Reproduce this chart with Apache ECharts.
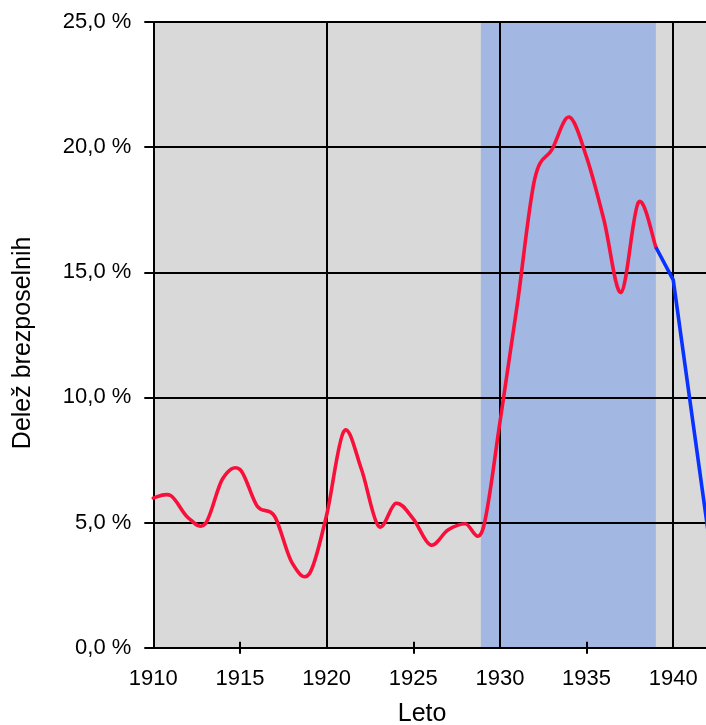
<!DOCTYPE html>
<html>
<head>
<meta charset="utf-8">
<script src="https://cdn.jsdelivr.net/npm/echarts@6/dist/echarts.min.js"></script>
<style>
html,body{margin:0;padding:0;background:#fff;overflow:hidden;}
#c{width:706px;height:725px;}
</style>
</head>
<body>
<div id="c"></div>
<script>
// Data
var redYears = [1910,1911,1912,1913,1914,1915,1916,1917,1918,1919,1920,1921,1922,1923,1924,1925,1926,1927,1928,1929,1930,1931,1932,1933,1934,1935,1936,1937,1938,1939];
var redValues = [5.98,6.08,5.2,4.95,6.75,7.12,5.65,5.25,3.4,2.95,5.3,8.65,7.15,4.85,5.77,5.15,4.1,4.7,4.95,4.7,9.0,13.7,18.7,19.9,21.2,19.6,17.1,14.2,17.8,16.0];
var blueYears = [1939,1940,1941,1942];
var blueValues = [16.0,14.7,9.7,4.7];
var bandRange = [1928.9, 1939.0];
var yTicks = [0,5,10,15,20,25];
var minorTickYears = [1915,1925,1935];

function pairs(xs, ys){ return xs.map(function(x,i){ return [x, ys[i]]; }); }

var FONT = "'Liberation Sans', Arial, sans-serif";
var XMIN = 1910, XMAX = 1943.04;
var GRID_LEFT = 153.3, GRID_W = 572.6;

// smooth curve through the data points (Catmull-Rom -> cubic Bezier), using the chart's own scales
function smoothPath(pts){
  var d = 'M' + pts[0][0] + ' ' + pts[0][1];
  for (var i = 0; i < pts.length - 1; i++) {
    var p0 = pts[i - 1] || pts[i], p1 = pts[i], p2 = pts[i + 1], p3 = pts[i + 2] || pts[i + 1];
    var c1x = p1[0] + (p2[0] - p0[0]) / 6, c1y = p1[1] + (p2[1] - p0[1]) / 6;
    var c2x = p2[0] - (p3[0] - p1[0]) / 6, c2y = p2[1] - (p3[1] - p1[1]) / 6;
    d += ' C' + c1x + ' ' + c1y + ' ' + c2x + ' ' + c2y + ' ' + p2[0] + ' ' + p2[1];
  }
  return d;
}

var chart = echarts.init(document.getElementById('c'), null, {renderer:'canvas'});
var baseX = { type:'value', min:XMIN, max:XMAX, position:'bottom', z:2 };
chart.setOption({
  animation:false,
  backgroundColor:'#ffffff',
  grid:{left:GRID_LEFT, top:22, width:GRID_W, bottom:77.3, show:true, backgroundColor:'#d9d9d9', borderWidth:0,
    containLabel:false, outerBoundsMode:'none'},
  xAxis:[
    Object.assign({}, baseX, {
      interval:10,
      axisLine:{show:true, lineStyle:{color:'#000', width:2}},
      axisTick:{show:false},
      axisLabel:{show:false},
      splitLine:{show:true, lineStyle:{color:'#000', width:2}},
      name:'Leto', nameLocation:'middle', nameGap:54,
      nameTextStyle:{fontFamily:FONT, fontSize:25, color:'#000', padding:[0,35,0,0]}
    }),
    Object.assign({}, baseX, {
      interval:5,
      axisLine:{show:false},
      axisTick:{show:false},
      axisLabel:{show:true, margin:20, fontFamily:FONT, fontSize:22, color:'#000', showMaxLabel:false,
        formatter:function(v){ return String(v); }},
      splitLine:{show:false}
    }),
    Object.assign({}, baseX, {
      interval:5, offset:-6,
      axisLine:{show:false},
      axisTick:{show:true, inside:false, length:12, customValues:minorTickYears, lineStyle:{color:'#000', width:2}},
      axisLabel:{show:false},
      splitLine:{show:false}
    })
  ],
  yAxis:{
    type:'value', min:0, max:25, interval:5, z:2,
    axisLine:{show:true, lineStyle:{color:'#000', width:2}},
    axisTick:{show:true, inside:false, length:9, lineStyle:{color:'#000', width:2}},
    axisLabel:{margin:22, fontFamily:FONT, fontSize:22, color:'#000',
      customValues:yTicks,
      formatter:function(v){ return v.toFixed(1).replace('.', ',') + ' %'; }},
    splitLine:{show:true, lineStyle:{color:'#000', width:2}},
    name:'Delež brezposelnih', nameLocation:'middle', nameGap:118, nameRotate:90,
    nameTextStyle:{fontFamily:FONT, fontSize:25, color:'#000', padding:[0,16,0,0]}
  },
  series:[
    {
      type:'line', z:1, xAxisIndex:0, data:[[bandRange[0],0],[bandRange[1],0]],
      showSymbol:false, symbol:'none', lineStyle:{width:0, opacity:0}, silent:true,
      markArea:{silent:true, itemStyle:{color:'#a2b8e2', opacity:1},
        data:[[{xAxis:bandRange[0]},{xAxis:bandRange[1]}]]}
    },
    {
      type:'custom', z:3, xAxisIndex:0, yAxisIndex:0, data:pairs(redYears, redValues),
      encode:{x:0, y:1}, silent:true,
      renderItem:function(params, api){
        if (params.dataIndex !== 0) return null;
        var pts = redYears.map(function(yr, i){ return api.coord([yr, redValues[i]]); });
        return {type:'path', shape:{pathData:smoothPath(pts)},
          style:{stroke:'#f8103a', lineWidth:3.6, fill:'none', lineJoin:'round', lineCap:'round'}};
      }
    },
    {
      type:'line', z:3, xAxisIndex:0, data:pairs(blueYears, blueValues),
      smooth:false, showSymbol:false, symbol:'none',
      lineStyle:{color:'#0a32ff', width:3.6}
    }
  ]
});
</script>
</body>
</html>
